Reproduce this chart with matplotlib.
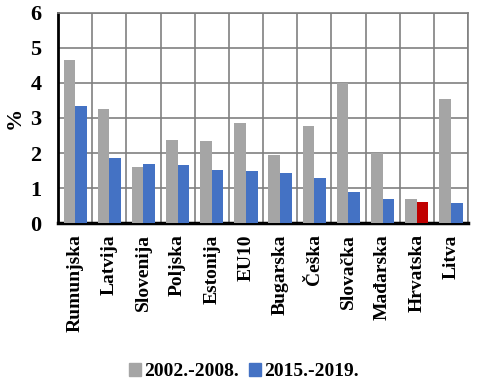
import numpy as np
import matplotlib.pyplot as plt
from matplotlib.patches import Patch

# --- dati ---
zemlje = ['Rumunjska', 'Latvija', 'Slovenija', 'Poljska', 'Estonija', 'EU10',
          'Bugarska', 'Češka', 'Slovačka', 'Mađarska', 'Hrvatska', 'Litva']
r_2002_2008 = [4.67, 3.27, 1.61, 2.38, 2.35, 2.87, 1.95, 2.78, 3.99, 1.99, 0.70, 3.55]
r_2015_2019 = [3.35, 1.87, 1.70, 1.67, 1.52, 1.50, 1.44, 1.30, 0.90, 0.70, 0.61, 0.58]
legenda = ['2002.-2008.', '2015.-2019.']

siva = '#A5A5A5'
plava = '#4472C4'
crvena = '#C00000'

plt.rcParams['font.family'] = ['Liberation Serif', 'DejaVu Serif']
plt.rcParams['font.weight'] = 'bold'

fig = plt.figure(figsize=(4.88, 3.92), dpi=100)
ax = fig.add_axes([0.119, 0.431, 0.840, 0.536])

x = np.arange(len(zemlje))
w = 0.34
boje2 = [crvena if z == 'Hrvatska' else plava for z in zemlje]
ax.bar(x - w / 2, r_2002_2008, w, color=siva, zorder=3)
ax.bar(x + w / 2, r_2015_2019, w, color=boje2, zorder=3)

ax.set_xlim(-0.5, len(zemlje) - 0.5)
ax.set_ylim(0, 6)
ax.set_yticks(range(0, 7))
ax.set_xticks(x)
ax.set_xticklabels(zemlje, rotation=90, fontsize=14, fontweight='bold')
ax.set_xticks(np.arange(-0.5, len(zemlje), 1), minor=True)
ax.tick_params(axis='y', labelsize=16, length=0, pad=12)
ax.tick_params(axis='x', which='both', length=0, pad=8)

ax.grid(True, axis='y', color='#808080', linewidth=1.2, zorder=0)
ax.grid(True, axis='x', which='minor', color='#808080', linewidth=1.2, zorder=0)
ax.grid(False, axis='x', which='major')

ax.spines['top'].set_color('#808080')
ax.spines['right'].set_color('#808080')
ax.spines['top'].set_linewidth(1.2)
ax.spines['right'].set_linewidth(1.2)
ax.spines['left'].set_linewidth(2)
ax.spines['bottom'].set_linewidth(2.5)

ax.set_ylabel('%', fontsize=16, fontweight='bold', labelpad=4)

rucke = [Patch(color=siva), Patch(color=plava)]
fig.legend(rucke, legenda, loc='lower center', bbox_to_anchor=(0.5, -0.015), ncol=2,
           frameon=False, fontsize=14, handlelength=0.6, handleheight=0.6,
           handletextpad=0.2, columnspacing=0.5)

plt.savefig('out.png', dpi=100)
